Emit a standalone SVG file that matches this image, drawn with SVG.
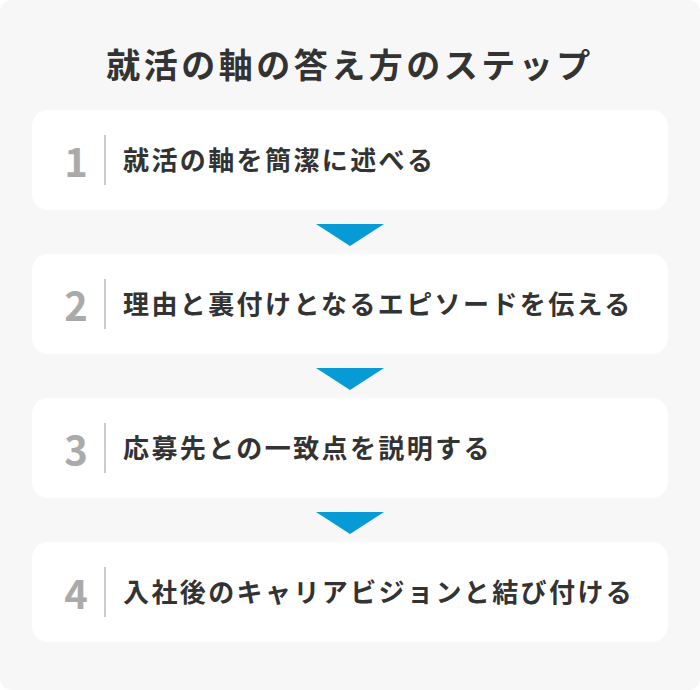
<svg xmlns="http://www.w3.org/2000/svg" width="700" height="690" viewBox="0 0 700 690">
<style>
.title{font-family:"Noto Sans CJK JP","Noto Sans",sans-serif;font-weight:700;font-size:34px;letter-spacing:3.5px;fill:#333}
.card{fill:#fff}
.num{font-family:"Noto Sans CJK JP","Noto Sans",sans-serif;font-weight:700;font-size:40px;fill:#aaa;text-anchor:middle}
.div{stroke:#ccc;stroke-width:2}
.lbl{font-family:"Noto Sans CJK JP","Noto Sans",sans-serif;font-weight:700;font-size:26px;letter-spacing:2.4px;fill:#333}
.arrow{fill:#069bd4}
</style>
<rect x="0" y="0" width="700" height="690" fill="#fff"/>
<rect x="0" y="0" width="700" height="690" rx="12" fill="#f7f7f7"/>
<text class="title" x="350" y="78" text-anchor="middle">就活の軸の答え方のステップ</text>
<g id="step1">
<rect class="card" x="32" y="110" width="636" height="100" rx="16"/>
<text class="num" x="76" y="177">1</text>
<line class="div" x1="105" y1="135" x2="105" y2="185"/>
<text class="lbl" x="123" y="170">就活の軸を簡潔に述べる</text>
</g>
<g id="step2">
<rect class="card" x="32" y="254" width="636" height="100" rx="16"/>
<text class="num" x="76" y="321">2</text>
<line class="div" x1="105" y1="279" x2="105" y2="329"/>
<text class="lbl" x="123" y="314">理由と裏付けとなるエピソードを伝える</text>
</g>
<g id="step3">
<rect class="card" x="32" y="398" width="636" height="100" rx="16"/>
<text class="num" x="76" y="465">3</text>
<line class="div" x1="105" y1="423" x2="105" y2="473"/>
<text class="lbl" x="123" y="458">応募先との一致点を説明する</text>
</g>
<g id="step4">
<rect class="card" x="32" y="542" width="636" height="100" rx="16"/>
<text class="num" x="76" y="609">4</text>
<line class="div" x1="105" y1="567" x2="105" y2="617"/>
<text class="lbl" x="123" y="602">入社後のキャリアビジョンと結び付ける</text>
</g>
<g id="connectors">
<polygon class="arrow" points="316,224 384,224 350,246"/>
<polygon class="arrow" points="316,368 384,368 350,390"/>
<polygon class="arrow" points="316,512 384,512 350,534"/>
</g>
</svg>
